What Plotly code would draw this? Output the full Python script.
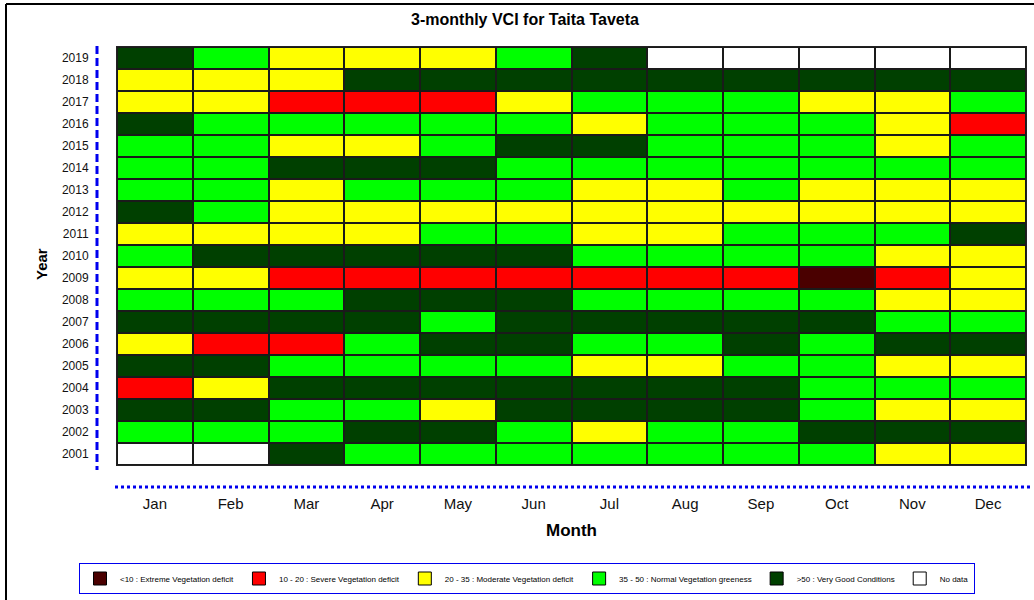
import plotly.graph_objects as go

months = ["Jan", "Feb", "Mar", "Apr", "May", "Jun", "Jul", "Aug", "Sep", "Oct", "Nov", "Dec"]
years = [str(y) for y in range(2001, 2020)]

class_labels = [
    "<10 : Extreme Vegetation deficit",
    "10 - 20 : Severe Vegetation deficit",
    "20 - 35 : Moderate Vegetation deficit",
    "35 - 50 : Normal Vegetation greeness",
    ">50 : Very Good Conditions",
    "No data",
]
class_colors = ["#4a0000", "#ff0000", "#ffff00", "#00ff00", "#004000", "#ffffff"]

# Class per month: E=extreme, S=severe, M=moderate, N=normal, V=very good, X=no data
vci_2001 = "X X V N N N N N N N M M"
vci_2002 = "N N N V V N M N N V V V"
vci_2003 = "V V N N M V V V V N M M"
vci_2004 = "S M V V V V V V V N N N"
vci_2005 = "V V N N N N M M N N M M"
vci_2006 = "M S S N V V N N V N V V"
vci_2007 = "V V V V N V V V V V N N"
vci_2008 = "N N N V V V N N N N M M"
vci_2009 = "M M S S S S S S S E S M"
vci_2010 = "N V V V V V N N N N M M"
vci_2011 = "M M M M N N M M N N N V"
vci_2012 = "V N M M M M M M M M M M"
vci_2013 = "N N M N N N M M N M M M"
vci_2014 = "N N V V V N N N N N N N"
vci_2015 = "N N M M N V V N N N M N"
vci_2016 = "V N N N N N M N N N M S"
vci_2017 = "M M S S S M N N N M M N"
vci_2018 = "M M M V V V V V V V V V"
vci_2019 = "V N M M M N V X X X X X"

rows = [vci_2001, vci_2002, vci_2003, vci_2004, vci_2005, vci_2006, vci_2007,
        vci_2008, vci_2009, vci_2010, vci_2011, vci_2012, vci_2013, vci_2014,
        vci_2015, vci_2016, vci_2017, vci_2018, vci_2019]
code = {"E": 0, "S": 1, "M": 2, "N": 3, "V": 4, "X": 5}
z = [[code[c] for c in r.split()] for r in rows]
text = [[class_labels[v] for v in row] for row in z]

n = len(class_colors)
colorscale = []
for i, c in enumerate(class_colors):
    colorscale.append([i / n, c])
    colorscale.append([(i + 1) / n, c])

fig = go.Figure()
fig.add_trace(go.Heatmap(
    x=months, y=years, z=z, text=text,
    colorscale=colorscale, zmin=-0.5, zmax=n - 0.5,
    showscale=False, xgap=2, ygap=2,
    hovertemplate="%{x} %{y}: %{text}<extra></extra>",
    showlegend=False,
))

for lab, col in zip(class_labels, class_colors):
    fig.add_trace(go.Scatter(
        x=[None], y=[None], mode="markers", name=lab,
        marker=dict(symbol="square", size=13, color=col, line=dict(color="#000000", width=1)),
    ))

# Plot area geometry in pixels (for decorative lines)
L, R, T, B = 117, 1026, 47, 465
W, H = R - L, B - T
px = lambda v: (v - L) / W
py = lambda v: (B - v) / H

shapes = [
    dict(type="line", xref="paper", yref="paper", x0=px(6), x1=px(1040), y0=py(4), y1=py(4),
         line=dict(color="#000000", width=2)),
    dict(type="line", xref="paper", yref="paper", x0=px(6), x1=px(6), y0=py(4), y1=py(606),
         line=dict(color="#000000", width=2)),
    dict(type="line", xref="paper", yref="paper", x0=px(97), x1=px(97), y0=py(46), y1=py(470),
         line=dict(color="#0000ee", width=3, dash="8px,4px")),
    dict(type="line", xref="paper", yref="paper", x0=px(115), x1=px(1030), y0=py(487), y1=py(487),
         line=dict(color="#0000ee", width=3, dash="3px,3px")),
]

annotations = [
    dict(text="<b>Month</b>", xref="paper", yref="paper", x=px(571), y=py(530),
         showarrow=False, font=dict(family="Liberation Sans, Arial", size=17, color="#000000"),
         xanchor="center", yanchor="middle"),
    dict(text="<b>Year</b>", xref="paper", yref="paper", x=px(41), y=py(264),
         showarrow=False, textangle=-90, font=dict(family="Liberation Sans, Arial", size=15, color="#000000"),
         xanchor="center", yanchor="middle"),
]

fig.update_layout(
    width=1034, height=600,
    margin=dict(l=L, r=1034 - R, t=T, b=600 - B, autoexpand=False),
    paper_bgcolor="#ffffff", plot_bgcolor="#1a1a1a",
    title=dict(text="<b>3-monthly VCI for Taita Taveta</b>", x=525 / 1034, xanchor="center",
               y=1 - 19 / 600, yanchor="middle",
               font=dict(family="Liberation Sans, Arial", size=16, color="#000000")),
    xaxis=dict(showgrid=False, zeroline=False, ticks="", ticklabelstandoff=25,
               tickfont=dict(family="Liberation Sans Narrow, Liberation Sans, Arial", size=15, color="#111111"),
               showline=True, linecolor="#222222", linewidth=1, mirror=True, fixedrange=True),
    yaxis=dict(showgrid=False, zeroline=False, ticks="", ticklabelstandoff=25,
               tickfont=dict(family="Liberation Sans, Arial", size=12, color="#111111"),
               showline=True, linecolor="#222222", linewidth=1, mirror=True, fixedrange=True),
    legend=dict(orientation="h", x=px(527), xanchor="center", y=py(563), yanchor="top",
                bordercolor="#0000ee", borderwidth=1, bgcolor="#ffffff",
                font=dict(family="Liberation Sans, Arial", size=8, color="#000000"),
                itemwidth=30, tracegroupgap=0),
    shapes=shapes,
    annotations=annotations,
)

fig.write_html("out.html", config={"displayModeBar": False},
               post_script="document.body.style.margin='0';")
